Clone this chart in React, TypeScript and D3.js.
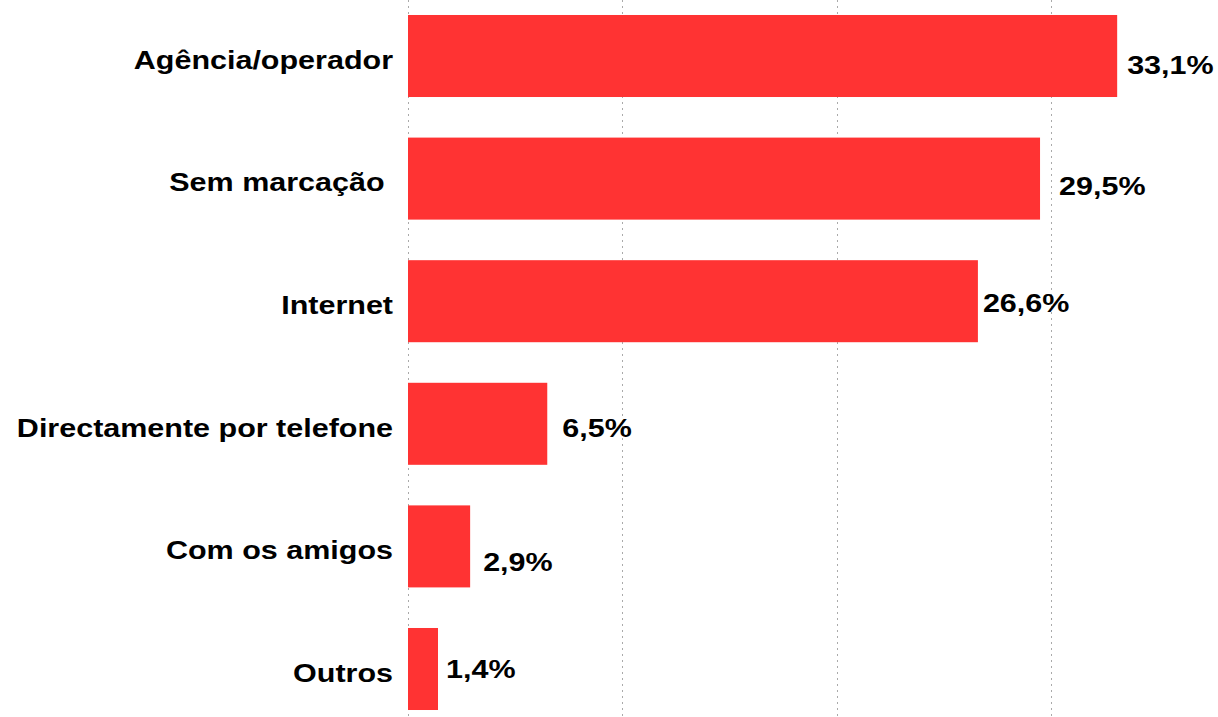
import * as d3 from "d3";
import { useRef, useEffect } from "react";

const categories = [
  "Agência/operador",
  "Sem marcação ",
  "Internet",
  "Directamente por telefone",
  "Com os amigos",
  "Outros",
];
const values = [33.1, 29.5, 26.6, 6.5, 2.9, 1.4];
const valueLabels = ["33,1%", "29,5%", "26,6%", "6,5%", "2,9%", "1,4%"];
const gridTicks = [0, 10, 20, 30];

// label nudges as they sit in the original (dx from bar end, dy from bar centre)
const labelNudge = [
  [10, 9],
  [19, 8],
  [5, 2],
  [15, 4],
  [13, 16],
  [8, 0],
];

const App = () => {
  const container = useRef(null);

  useEffect(() => {
    createChart();
  });

  const createChart = () => {
    let width = 1218;
    let height = 717;
    let barColor = "#ff3333";
    let font = "'Liberation Sans', Arial, sans-serif";
    let stretch = 1.22; // original text is drawn a bit wide

    let svg = d3
      .select(container.current)
      .selectAll("svg")
      .data([0])
      .join("svg")
      .attr("width", width)
      .attr("height", height)
      .style("position", "absolute")
      .style("left", 0)
      .style("top", 0)
      .style("background", "#fff");

    let xScale = d3.scaleLinear().domain([0, 40]).range([408, 1265]);

    let step = 122.6;
    let y0 = 56 - step / 2;
    let yScale = d3
      .scaleBand()
      .domain(categories)
      .range([y0, y0 + step * categories.length])
      .paddingInner(0.331)
      .paddingOuter(0.1655);

    // dotted vertical gridlines
    svg
      .selectAll(".grid-line")
      .data(gridTicks)
      .join("line")
      .attr("class", "grid-line")
      .attr("x1", (d) => Math.round(xScale(d)) + 0.5)
      .attr("x2", (d) => Math.round(xScale(d)) + 0.5)
      .attr("y1", 0)
      .attr("y2", height)
      .attr("stroke", "#aaa")
      .attr("stroke-width", 1)
      .attr("stroke-dasharray", "2,4");

    let data = categories.map((c, i) => ({
      cat: c,
      val: values[i],
      label: valueLabels[i],
      nudge: labelNudge[i],
    }));

    svg
      .selectAll(".bar")
      .data(data)
      .join("rect")
      .attr("class", "bar")
      .attr("x", xScale(0))
      .attr("y", (d) => yScale(d.cat))
      .attr("width", (d) => xScale(d.val) - xScale(0))
      .attr("height", yScale.bandwidth())
      .attr("fill", barColor);

    svg
      .selectAll(".cat-label")
      .data(data)
      .join("text")
      .attr("class", "cat-label")
      .attr(
        "transform",
        (d) =>
          `translate(393,${yScale(d.cat) + yScale.bandwidth() / 2 + 4}) scale(${stretch},1)`
      )
      .attr("dy", "0.35em")
      .attr("text-anchor", "end")
      .style("font-family", font)
      .style("font-weight", 700)
      .style("font-size", "25px")
      .style("white-space", "pre")
      .attr("fill", "#000")
      .text((d) => d.cat);

    svg
      .selectAll(".val-label")
      .data(data)
      .join("text")
      .attr("class", "val-label")
      .attr(
        "transform",
        (d) =>
          `translate(${xScale(d.val) + d.nudge[0]},${
            yScale(d.cat) + yScale.bandwidth() / 2 + d.nudge[1]
          }) scale(${stretch},1)`
      )
      .attr("dy", "0.35em")
      .style("font-family", font)
      .style("font-weight", 700)
      .style("font-size", "25px")
      .attr("fill", "#000")
      .text((d) => d.label);
  };

  return <div ref={container} style={{ width: 1218, height: 717 }}></div>;
};

export default App;
